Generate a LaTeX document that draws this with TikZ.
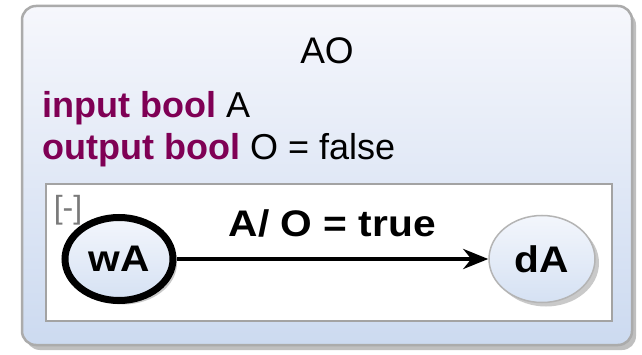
\documentclass[tikz,border=0pt]{standalone}
\usepackage{fontspec}
\setmainfont{Liberation Sans}
\newfontfamily\lblfont[FakeStretch=1.1]{Liberation Sans}
\usetikzlibrary{shapes.geometric,arrows.meta,shadows}
\definecolor{kw}{HTML}{7F0055}
\definecolor{outertop}{HTML}{F6F7FC}
\definecolor{outerbot}{HTML}{CCDAF0}
\definecolor{outerline}{HTML}{ABABAB}
\definecolor{innerline}{HTML}{A3A3A3}
\definecolor{sttop}{HTML}{F3F6FC}
\definecolor{stbot}{HTML}{D5E1F3}
\definecolor{stline}{HTML}{B4B4B4}
\definecolor{brk}{HTML}{7A7A7A}
\tikzset{
  decl/.style={anchor=base west, inner sep=0pt, font=\fontsize{36}{42}\selectfont},
  statebox/.style={ellipse, inner sep=0pt, top color=sttop, bottom color=stbot,
    font=\lblfont\bfseries\fontsize{37}{44}\selectfont,
    drop shadow={shadow xshift=4pt, shadow yshift=-4pt, opacity=0.35, fill=black!60}},
  initstate/.style={statebox, draw=black, line width=7pt, minimum width=108pt, minimum height=83pt},
  plainstate/.style={statebox, draw=stline, line width=1.5pt, minimum width=106pt, minimum height=87pt},
  trans/.style={line width=4pt, -{Stealth[length=25pt,width=20pt,inset=8pt]}},
  translabel/.style={anchor=base, inner sep=0pt, font=\lblfont\bfseries\fontsize{37}{44}\selectfont},
}
\begin{document}
\begin{tikzpicture}[x=1pt,y=-1pt]
\useasboundingbox (0,0) rectangle (642,355);
\fill[white] (0,0) rectangle (642,355);
% outer region
\path[rounded corners=14pt, draw=outerline, line width=2.5pt, top color=outertop, bottom color=outerbot,
  drop shadow={shadow xshift=4pt, shadow yshift=-5pt, opacity=0.45, fill=black!55}]
  (22,6) rectangle (632,345);
\node[anchor=base, inner sep=0pt, font=\fontsize{37}{42}\selectfont] (title) at (327,64) {AO};
\node[decl] (in) at (42,117.5) {\textcolor{kw}{\bfseries input bool} A};
\node[decl] (out) at (42,159.5) {\textcolor{kw}{\bfseries output bool} O = false};
% inner region
\draw[fill=white, draw=innerline, line width=2pt] (46,184) rectangle (612,321);
\node[inner sep=0pt, text=brk, font=\fontsize{32}{36}\selectfont] (collapse) at (68,210) {[-]};
% states
\node[initstate] (wA) at (119,259) {wA};
\node[plainstate] (dA) at (542,259) {dA};
\draw[trans] (wA) -- (dA) node[translabel, midway, yshift=22pt] (lbl) {A/ O = true};
\end{tikzpicture}
\end{document}
